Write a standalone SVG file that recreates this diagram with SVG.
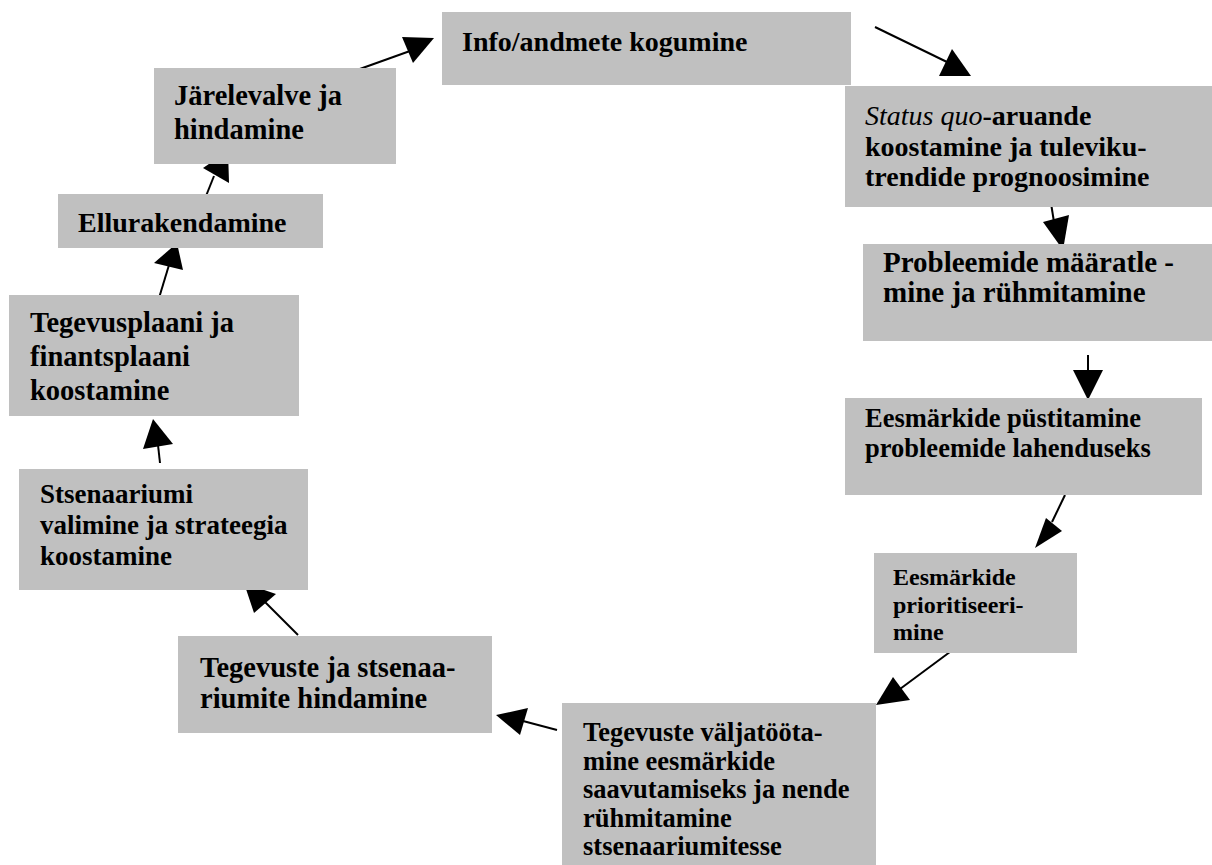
<svg xmlns="http://www.w3.org/2000/svg" width="1212" height="865" viewBox="0 0 1212 865">
<style>
.box{fill:#c0c0c0}
.t{font-family:"Liberation Serif","Times New Roman",serif;font-weight:bold;fill:#000}
.it{font-style:italic;font-weight:normal}
.ln{stroke:#000;stroke-width:2;fill:none}
.ah{fill:#000}
</style>
<rect width="1212" height="865" fill="#fff"/>
<g id="connectors">
<line class="ln" x1="875" y1="27" x2="947" y2="62"/><polygon class="ah" points="952,49 939,76 971,76"/>
<line class="ln" x1="1050" y1="197" x2="1054" y2="222"/><polygon class="ah" points="1043,222 1069,215 1063,250"/>
<line class="ln" x1="1088" y1="355" x2="1088" y2="372"/><polygon class="ah" points="1073,370 1103,370 1088,400"/>
<line class="ln" x1="1065" y1="495" x2="1052" y2="522"/><polygon class="ah" points="1046,518 1062,531 1035,548"/>
<line class="ln" x1="958" y1="646" x2="900" y2="689"/><polygon class="ah" points="893,677 910,700 876,705"/>
<line class="ln" x1="557" y1="730" x2="523" y2="721"/><polygon class="ah" points="496,715 528,708 520,735"/>
<line class="ln" x1="298" y1="635" x2="265" y2="602"/><polygon class="ah" points="244,583 276,594 254,613"/>
<line class="ln" x1="160" y1="463" x2="158" y2="445"/><polygon class="ah" points="153,419 143,449 173,444"/>
<line class="ln" x1="159" y1="298" x2="169" y2="265"/><polygon class="ah" points="177,243 154,263 183,270"/>
<line class="ln" x1="206" y1="196" x2="214" y2="176"/><polygon class="ah" points="228,151 203,168 229,183"/>
<line class="ln" x1="357" y1="70" x2="410" y2="51"/><polygon class="ah" points="434,38 402,37 413,63"/>
</g>
<g id="n1"><rect class="box" x="442" y="12" width="409" height="73"/><text class="t" x="462" y="51" font-size="28">Info/andmete kogumine</text></g>
<g id="n2"><rect class="box" x="845" y="86" width="367" height="121"/><text class="t" x="865" font-size="28"><tspan x="865" y="125"><tspan class="it">Status quo</tspan>-aruande</tspan><tspan x="865" y="155.5">koostamine ja tuleviku-</tspan><tspan x="865" y="186">trendide prognoosimine</tspan></text></g>
<g id="n3"><rect class="box" x="863" y="244" width="349" height="97"/><text class="t" font-size="29"><tspan x="883" y="272">Probleemide määratle -</tspan><tspan x="883" y="302">mine ja rühmitamine</tspan></text></g>
<g id="n4"><rect class="box" x="845" y="398" width="357" height="97"/><text class="t" font-size="26.5"><tspan x="865" y="427">Eesmärkide püstitamine</tspan><tspan x="865" y="457">probleemide lahenduseks</tspan></text></g>
<g id="n5"><rect class="box" x="874" y="553" width="203" height="100"/><text class="t" font-size="24"><tspan x="893" y="585">Eesmärkide</tspan><tspan x="893" y="613">prioritiseeri-</tspan><tspan x="893" y="640">mine</tspan></text></g>
<g id="n6"><rect class="box" x="562" y="703" width="314" height="162"/><text class="t" font-size="26.5"><tspan x="583" y="741">Tegevuste väljatööta-</tspan><tspan x="583" y="769.5">mine eesmärkide</tspan><tspan x="583" y="798">saavutamiseks ja nende</tspan><tspan x="583" y="826.5">rühmitamine</tspan><tspan x="583" y="855">stsenaariumitesse</tspan></text></g>
<g id="n7"><rect class="box" x="178" y="636" width="314" height="97"/><text class="t" font-size="28.5"><tspan x="200" y="677">Tegevuste ja stsenaa-</tspan><tspan x="200" y="708">riumite hindamine</tspan></text></g>
<g id="n8"><rect class="box" x="19" y="469" width="289" height="121"/><text class="t" font-size="27"><tspan x="40" y="503">Stsenaariumi</tspan><tspan x="40" y="534">valimine ja strateegia</tspan><tspan x="40" y="565">koostamine</tspan></text></g>
<g id="n9"><rect class="box" x="9" y="295" width="290" height="121"/><text class="t" font-size="28.5"><tspan x="30" y="332">Tegevusplaani ja</tspan><tspan x="30" y="366">finantsplaani</tspan><tspan x="30" y="400">koostamine</tspan></text></g>
<g id="n10"><rect class="box" x="58" y="194" width="265" height="54"/><text class="t" x="78" y="232" font-size="28">Ellurakendamine</text></g>
<g id="n11"><rect class="box" x="154" y="68" width="242" height="96"/><text class="t" font-size="28.5"><tspan x="174" y="105">Järelevalve ja</tspan><tspan x="174" y="139">hindamine</tspan></text></g>
</svg>
